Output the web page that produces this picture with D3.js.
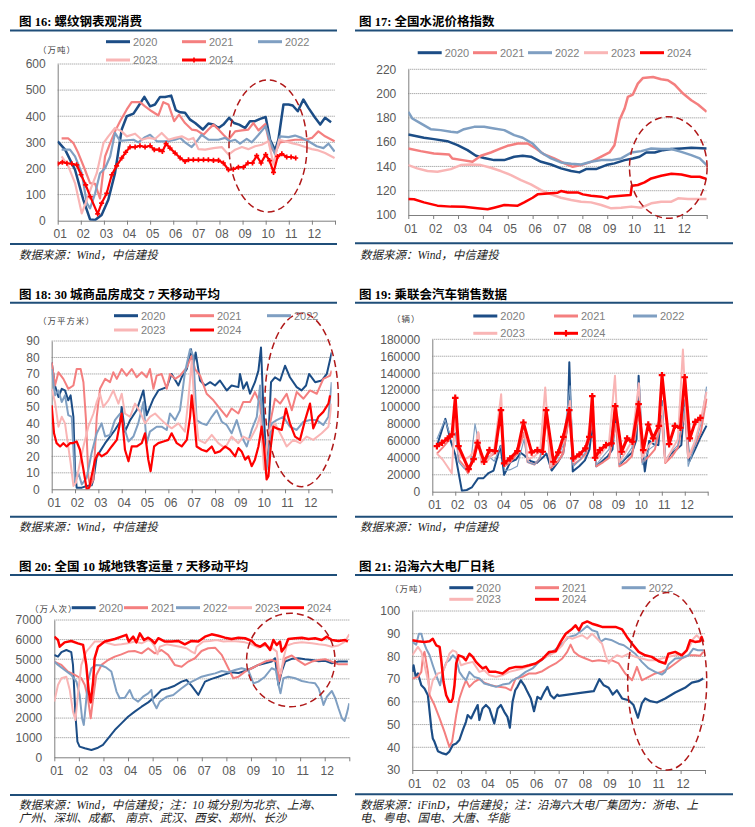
<!DOCTYPE html>
<html>
<head>
<meta charset="utf-8">
<script src="https://cdn.jsdelivr.net/npm/d3@7"></script>
<style>
  body { margin: 0; background: #fff; }
  svg { display: block; }
  .title { font-family: "Liberation Serif", "Noto Sans CJK SC", serif; font-weight: bold; font-size: 12.5px; fill: #000; }
  .src { font-family: "Liberation Serif", "Noto Sans CJK SC", serif; font-style: italic; font-size: 11.5px; fill: #222; }
  .leg { font-family: "Liberation Sans", Arial, sans-serif; font-size: 11px; fill: #808080; }
  .unit { font-family: "Noto Sans CJK SC", sans-serif; font-size: 8.5px; fill: #404040; letter-spacing: 1px; }
</style>
</head>
<body>
<svg id="chart" width="755" height="827"></svg>
<script>
// x values are month positions: 1 = start of Jan ("01"), 13 = end of Dec
const monthLabels = ["01", "02", "03", "04", "05", "06", "07", "08", "09", "10", "11", "12"];
const yearLabels = ["2020", "2021", "2022", "2023", "2024"];
const yearColors = ["#1c4d86", "#f47f7f", "#7f9fc2", "#f9b5b5", "#ff0000"];

// ---- 图16 螺纹钢表观消费 (万吨)
const steel2020 = [[1.00,304],[1.32,272],[1.75,195],[2.11,80],[2.40,5],[2.62,3],[2.90,22],[3.19,80],[3.48,182],[3.77,349],[3.99,400],[4.28,410],[4.49,438],[4.75,474],[5.00,438],[5.21,445],[5.43,474],[5.65,474],[5.91,479],[6.11,423],[6.30,415],[6.51,413],[6.73,387],[6.95,374],[7.28,349],[7.52,372],[7.74,368],[7.96,355],[8.17,368],[8.42,394],[8.63,374],[8.85,368],[9.11,355],[9.32,381],[9.54,381],[9.76,390],[10.00,397],[10.19,310],[10.41,270],[10.55,310],[10.77,445],[10.99,445],[11.17,441],[11.39,419],[11.63,464],[11.85,432],[12.14,394],[12.36,368],[12.57,394],[12.83,377]];
const steel2021 = [[1.17,315],[1.46,315],[1.68,297],[1.89,259],[2.18,195],[2.40,144],[2.62,141],[2.83,85],[3.05,246],[3.27,297],[3.48,342],[3.70,381],[3.99,426],[4.20,454],[4.56,454],[4.78,438],[5.07,419],[5.36,403],[5.57,454],[5.79,445],[6.04,381],[6.25,406],[6.51,374],[6.80,349],[7.02,346],[7.31,329],[7.52,349],[7.74,368],[7.96,349],[8.17,329],[8.39,310],[8.68,342],[8.97,346],[9.25,349],[9.47,374],[9.69,346],[9.98,370],[10.19,285],[10.41,259],[10.62,300],[10.84,304],[11.27,310],[11.71,310],[12.00,317],[12.28,342],[12.57,323],[12.98,304]];
const steel2022 = [[1.17,272],[1.53,272],[1.75,246],[2.04,182],[2.26,67],[2.40,47],[2.62,105],[2.83,182],[3.05,201],[3.27,246],[3.48,336],[3.70,306],[3.99,308],[4.28,310],[4.49,300],[4.78,320],[5.00,329],[5.29,304],[5.57,304],[5.86,306],[6.08,310],[6.30,317],[6.51,300],[6.80,282],[7.02,304],[7.23,329],[7.52,310],[7.96,310],[8.24,317],[8.46,304],[8.68,310],[8.89,295],[9.18,313],[9.40,300],[9.69,329],[10.00,362],[10.19,304],[10.41,253],[10.62,323],[10.99,320],[11.27,326],[11.56,317],[11.85,304],[12.21,285],[12.50,278],[12.72,295],[12.98,265]];
const steel2023 = [[1.17,246],[1.46,208],[1.75,144],[2.04,28],[2.26,80],[2.47,131],[2.69,182],[2.98,297],[3.19,323],[3.48,355],[3.77,342],[3.99,323],[4.35,333],[4.64,310],[4.92,317],[5.21,313],[5.50,336],[5.79,310],[6.08,317],[6.37,323],[6.66,310],[6.87,317],[7.09,274],[7.38,272],[7.74,278],[8.10,282],[8.39,253],[8.68,272],[8.97,282],[9.25,274],[9.54,285],[9.83,291],[10.12,304],[10.34,215],[10.58,310],[10.84,304],[11.13,297],[11.42,291],[11.71,282],[12.00,274],[12.28,269],[12.57,259],[12.98,240]];
const steel2024 = [[1.00,218],[1.20,224],[1.40,220],[1.61,218],[1.82,214],[2.01,176],[2.21,137],[2.41,92],[2.73,26],[2.90,67],[3.12,105],[3.34,176],[3.55,210],[3.77,240],[3.94,262],[4.13,282],[4.35,282],[4.56,287],[4.78,282],[5.00,287],[5.18,272],[5.39,272],[5.53,265],[5.69,295],[5.86,278],[6.08,259],[6.30,240],[6.51,227],[6.66,233],[6.87,233],[7.09,233],[7.31,233],[7.52,233],[7.74,231],[7.96,231],[8.17,221],[8.39,195],[8.60,197],[8.82,205],[9.04,205],[9.23,221],[9.43,221],[9.61,249],[9.80,221],[10.00,253],[10.17,230],[10.34,185],[10.52,246],[10.70,256],[10.91,244],[11.10,244],[11.30,240]];

// ---- 图17 全国水泥价格指数
const cement2020 = [[1.00,166.3],[1.63,163.6],[2.03,162.5],[2.57,160.8],[2.98,157.5],[3.38,153.4],[3.72,148.8],[4.05,147],[4.45,145.2],[4.86,145.2],[5.26,148],[5.60,148.8],[5.93,148],[6.34,143.8],[6.74,141.6],[7.14,138.4],[7.55,136.2],[7.88,135.1],[8.15,137.8],[8.55,137.8],[8.96,141.1],[9.29,142.5],[9.70,145.2],[10.03,146.6],[10.30,148],[10.57,151.5],[10.91,151.5],[11.24,153.4],[11.58,154.3],[11.98,154.8],[12.38,155.3],[13.00,154.8]];
const cement2021 = [[1.00,154.8],[1.50,152.6],[2.03,150.7],[2.64,149.9],[2.77,146.6],[3.18,145.2],[3.58,143.8],[3.92,148.8],[4.32,151.5],[4.72,154.8],[4.99,157],[5.40,158.9],[5.80,158.9],[6.13,154.8],[6.47,149.9],[6.87,146.6],[7.28,142.5],[7.61,139.7],[7.95,141.1],[8.35,143.8],[8.76,148],[9.09,151.5],[9.29,157.5],[9.49,178],[9.70,187.7],[9.83,197.3],[10.03,199.2],[10.23,208.2],[10.44,212.9],[10.84,213.7],[11.17,211.8],[11.44,211],[11.71,207.4],[12.05,200],[12.38,194.5],[12.65,191],[13.00,185]];
const cement2022 = [[1.00,185],[1.16,179.5],[1.50,175.4],[1.90,170.7],[2.30,169.9],[2.71,168.5],[2.98,168],[3.24,170.7],[3.65,172.6],[4.05,172.6],[4.45,171.2],[4.86,169.9],[5.26,165.8],[5.60,163.6],[6.00,158.9],[6.34,151.5],[6.74,146.6],[7.14,143.3],[7.55,142.2],[7.95,141.6],[8.35,143.8],[8.76,145.2],[9.16,145.2],[9.56,146.6],[9.97,151.5],[10.37,152.6],[10.77,154.8],[11.17,154.3],[11.58,154.3],[11.98,152],[12.38,149.3],[12.72,146.6],[13.00,141.1]];
const cement2023 = [[1.00,141.1],[1.36,138.4],[1.77,136.2],[2.17,135.6],[2.71,137.8],[3.11,141.1],[3.51,141.6],[3.92,141.1],[4.32,138.9],[4.72,136.2],[5.13,132.9],[5.53,128.8],[5.93,125.2],[6.34,120.5],[6.74,117],[7.14,114.2],[7.55,112.3],[7.95,111],[8.35,110.4],[8.76,108.2],[9.16,105.5],[9.56,106],[9.97,106.9],[10.37,106],[10.77,109.6],[11.17,111],[11.58,111],[11.85,113.7],[12.25,113.2],[12.65,113.2],[13.00,113.2]];
const cement2024 = [[1.00,113.2],[1.23,113],[1.63,110.4],[2.17,107.7],[2.71,106.9],[3.24,106.7],[3.78,105.5],[4.19,104.7],[4.45,106],[4.86,108.2],[5.40,107.7],[5.66,110.4],[6.00,114.2],[6.20,117],[6.60,117.8],[7.01,118.4],[7.14,119.7],[7.41,118.6],[7.81,118.6],[8.02,117],[8.35,115.9],[8.76,115.1],[9.02,113.7],[9.09,115.1],[9.56,115.9],[9.94,116.4],[9.99,124.1],[10.23,124.7],[10.50,126.9],[10.77,130.1],[11.17,132.3],[11.58,134],[11.98,133.4],[12.38,131.5],[12.72,131.5],[13.00,129.6]];

// ---- 图18 30城商品房成交7天移动平均 (万平方米)
const house2020 = [[1.00,77],[1.14,63],[1.29,56],[1.43,61],[1.57,60],[1.71,54],[1.81,57],[1.93,44],[2.00,12],[2.07,1],[2.29,1],[2.50,2],[2.71,2.4],[2.79,6],[2.93,20],[3.07,23],[3.29,28],[3.50,32],[3.71,36],[3.93,41],[4.00,50],[4.14,35],[4.36,42],[4.64,48],[4.93,60],[5.07,45],[5.36,55],[5.57,60],[5.93,62],[6.14,70],[6.43,63],[6.57,68],[6.79,73],[6.97,85],[7.07,75],[7.17,83],[7.36,66],[7.57,63],[7.79,65],[8.00,63],[8.21,66],[8.50,60],[8.71,63],[9.00,62],[9.07,70],[9.21,61],[9.36,65],[9.50,58],[9.71,65],[9.86,72],[9.97,86],[10.07,50],[10.17,25],[10.25,20],[10.40,65],[10.57,68],[10.79,66],[11.00,75],[11.21,68],[11.50,62],[11.71,60],[11.90,63],[12.03,70],[12.29,65],[12.57,66],[12.79,70],[13.00,83]];
const house2021 = [[1.00,77],[1.14,63],[1.29,71],[1.50,67],[1.71,61],[1.93,63],[2.07,73],[2.24,73],[2.36,65],[2.47,42],[2.57,8],[2.64,2],[2.79,6],[2.93,44],[3.07,61],[3.29,67],[3.50,65],[3.64,71],[3.79,67],[4.00,73],[4.21,69],[4.43,73],[4.64,68],[4.86,71],[5.07,68],[5.21,73],[5.36,61],[5.50,69],[5.71,70],[5.93,61],[6.07,70],[6.29,67],[6.50,69],[6.79,74],[7.00,81],[7.14,73],[7.36,69],[7.64,58],[7.93,54],[8.21,49],[8.50,44],[8.71,49],[9.00,46],[9.21,53],[9.50,53],[9.71,59],[9.93,52],[10.14,16],[10.36,40],[10.57,55],[10.79,52],[11.07,58],[11.29,48],[11.50,59],[11.79,55],[12.07,60],[12.36,58],[12.64,67],[12.93,69],[13.00,72]];
const house2022 = [[1.00,73],[1.14,57],[1.29,60],[1.43,53],[1.57,57],[1.71,45],[1.86,44],[2.00,4],[2.14,10],[2.29,3],[2.50,7],[2.71,22],[2.93,34],[3.14,40],[3.29,32],[3.50,33],[3.71,42],[3.93,46],[4.14,36],[4.29,29],[4.50,32],[4.71,40],[4.93,53],[5.07,28],[5.21,35],[5.50,38],[5.71,38],[5.93,36],[6.07,46],[6.29,42],[6.50,48],[6.71,71],[6.93,85],[7.07,81],[7.21,42],[7.43,40],[7.64,39],[7.86,44],[8.07,48],[8.29,41],[8.50,39],[8.71,34],[8.93,42],[9.14,32],[9.36,26],[9.57,36],[9.79,44],[9.93,63],[10.07,32],[10.21,12],[10.43,40],[10.64,42],[10.93,44],[11.21,38],[11.50,36],[11.79,41],[12.07,42],[12.36,42],[12.64,39],[12.86,44],[13.00,65]];
const house2023 = [[1.00,61],[1.14,53],[1.29,38],[1.43,44],[1.57,40],[1.71,26],[1.81,16],[1.93,2],[2.04,4],[2.21,16],[2.36,26],[2.57,38],[2.79,46],[2.93,53],[3.07,58],[3.21,50],[3.43,54],[3.64,60],[3.86,52],[4.00,58],[4.14,46],[4.36,44],[4.57,52],[4.79,47],[5.00,40],[5.21,44],[5.43,46],[5.64,43],[5.86,40],[6.14,37],[6.43,40],[6.71,35],[6.86,55],[7.00,78],[7.10,55],[7.29,30],[7.57,28],[7.86,33],[8.14,28],[8.43,25],[8.71,32],[9.00,28],[9.21,32],[9.50,30],[9.79,38],[9.93,45],[10.10,12],[10.29,35],[10.57,40],[10.86,32],[11.07,26],[11.36,30],[11.64,28],[11.93,32],[12.21,30],[12.57,34],[12.86,38],[13.00,52]];
const house2024 = [[1.00,51],[1.10,34],[1.21,28],[1.36,26],[1.50,28],[1.64,26],[1.79,28],[1.90,28],[2.07,29],[2.21,24],[2.36,12],[2.50,0],[2.61,1],[2.71,8],[2.86,18],[3.00,22],[3.14,20],[3.36,22],[3.57,26],[3.79,30],[4.00,46],[4.14,24],[4.29,17],[4.43,26],[4.64,26],[4.86,28],[5.00,34],[5.14,18],[5.24,11],[5.39,26],[5.57,28],[5.79,29],[6.00,30],[6.14,34],[6.36,28],[6.57,26],[6.79,30],[6.93,44],[7.00,57],[7.10,44],[7.21,26],[7.43,24],[7.64,23],[7.86,26],[8.00,22],[8.21,23],[8.43,26],[8.64,24],[8.86,20],[9.00,25],[9.14,23],[9.29,18],[9.43,20],[9.57,14],[9.71,18],[9.86,26],[10.00,38],[10.10,26],[10.21,6],[10.29,8],[10.39,26],[10.50,38],[10.64,37],[10.86,36],[11.04,49],[11.21,40],[11.43,32],[11.64,30],[11.86,42],[12.07,52],[12.21,37],[12.43,44],[12.64,47],[12.86,52],[12.93,57]];

// ---- 图19 乘联会汽车销售数据 (辆)
const car2020 = [[1.20,54000],[1.57,86000],[1.80,60000],[2.00,44000],[2.29,1000],[2.50,2000],[2.72,5000],[3.00,16000],[3.23,16000],[3.45,22000],[3.67,25000],[3.97,54000],[4.13,20000],[4.40,35000],[4.65,38000],[4.85,46000],[5.00,43000],[5.30,36000],[5.55,34000],[5.80,40000],[5.97,45000],[6.20,25000],[6.45,34000],[6.70,45000],[6.90,80000],[6.97,153000],[7.12,24000],[7.40,30000],[7.65,37000],[7.85,50000],[7.98,80000],[8.15,30000],[8.40,36000],[8.65,42000],[8.85,50000],[8.98,90000],[9.20,33000],[9.45,40000],[9.70,46000],[9.90,62000],[9.99,137000],[10.12,62000],[10.26,24000],[10.45,60000],[10.65,56000],[10.85,55000],[11.00,107000],[11.15,35000],[11.40,45000],[11.65,50000],[11.85,55000],[12.00,108000],[12.20,36000],[12.45,50000],[12.70,65000],[12.95,78000]];
const car2021 = [[1.20,45000],[1.45,52000],[1.70,60000],[1.90,68000],[2.00,95000],[2.15,38000],[2.40,30000],[2.55,22000],[2.80,40000],[3.00,70000],[3.15,35000],[3.40,40000],[3.70,45000],[4.00,95000],[4.15,30000],[4.40,35000],[4.70,45000],[5.00,70000],[5.15,35000],[5.45,32000],[5.70,40000],[6.00,85000],[6.15,28000],[6.45,35000],[6.70,45000],[7.00,95000],[7.15,32000],[7.45,38000],[7.70,45000],[8.00,85000],[8.15,30000],[8.45,35000],[8.70,40000],[9.00,80000],[9.15,30000],[9.45,35000],[9.70,42000],[10.00,95000],[10.15,35000],[10.45,42000],[10.70,50000],[11.00,85000],[11.15,34000],[11.45,42000],[11.70,52000],[12.00,95000],[12.15,40000],[12.45,55000],[12.70,70000],[12.95,110000]];
const car2022 = [[1.20,62000],[1.55,85000],[1.80,65000],[2.00,70000],[2.15,35000],[2.40,27000],[2.65,28000],[2.86,80000],[3.00,60000],[3.15,33000],[3.45,42000],[3.70,36000],[4.00,55000],[4.15,25000],[4.40,26000],[4.70,30000],[5.00,62000],[5.15,35000],[5.45,32000],[5.70,40000],[6.00,100000],[6.15,30000],[6.45,40000],[6.70,55000],[7.00,125000],[7.15,30000],[7.45,38000],[7.70,48000],[8.00,90000],[8.15,32000],[8.45,42000],[8.70,50000],[9.00,105000],[9.15,32000],[9.45,42000],[9.70,52000],[10.00,128000],[10.15,32000],[10.45,50000],[10.70,55000],[11.00,108000],[11.15,38000],[11.45,48000],[11.70,55000],[12.00,100000],[12.15,30000],[12.45,55000],[12.70,80000],[12.95,124000]];
const car2023 = [[1.20,45000],[1.45,38000],[1.65,30000],[1.85,22000],[2.00,95000],[2.15,45000],[2.40,38000],[2.65,42000],[2.85,50000],[3.00,70000],[3.15,33000],[3.45,38000],[3.70,50000],[4.00,115000],[4.15,30000],[4.40,40000],[4.70,50000],[5.00,80000],[5.15,38000],[5.45,42000],[5.70,48000],[5.92,123000],[6.15,30000],[6.45,45000],[6.70,58000],[7.00,107000],[7.15,35000],[7.45,45000],[7.70,55000],[8.00,100000],[8.15,38000],[8.45,48000],[8.70,58000],[8.96,137000],[9.15,35000],[9.45,48000],[9.70,60000],[10.00,128000],[10.15,40000],[10.45,55000],[10.70,62000],[11.00,100000],[11.15,35000],[11.45,50000],[11.70,62000],[11.92,168000],[12.15,40000],[12.45,60000],[12.70,85000],[12.95,118000]];
const car2024 = [[1.20,53800],[1.42,57800],[1.67,62900],[1.86,67600],[2.00,110800],[2.14,53800],[2.58,26700],[2.80,38500],[2.97,57800],[3.26,35400],[3.49,49100],[3.74,48000],[3.99,96300],[4.13,33400],[4.39,39300],[4.71,48000],[4.97,81700],[5.33,46400],[5.58,49100],[5.81,47200],[5.96,96300],[6.28,35400],[6.49,46400],[6.71,64800],[6.97,96300],[7.14,39300],[7.41,44000],[7.67,51100],[7.84,64800],[7.97,112800],[8.09,40100],[8.30,49100],[8.57,55000],[8.81,57000],[8.97,101000],[9.25,47200],[9.49,62900],[9.72,59000],[9.99,103400],[10.19,49100],[10.41,79400],[10.62,62900],[10.87,77800],[11.01,137600],[11.32,56200],[11.57,77800],[11.81,75500],[12.00,135200],[12.22,62900],[12.46,82500],[12.68,87200]];

// ---- 图20 全国10城地铁客运量7天移动平均 (万人次)
const metro2020 = [[1.00,5220],[1.15,5130],[1.29,5360],[1.49,5470],[1.69,5360],[1.76,4710],[1.86,2160],[1.94,800],[2.03,545],[2.24,460],[2.51,370],[2.78,490],[2.98,630],[3.19,970],[3.46,1390],[3.73,1730],[4.00,2070],[4.27,2330],[4.55,2580],[4.82,2800],[5.09,3090],[5.36,3430],[5.63,3520],[5.90,3650],[6.18,3860],[6.38,3940],[6.58,3650],[6.86,3180],[7.13,3860],[7.40,4000],[7.67,4110],[7.94,4230],[8.21,4340],[8.49,4300],[8.76,4400],[9.03,4540],[9.30,4710],[9.57,4790],[9.84,4880],[9.98,5050],[10.12,3690],[10.25,4370],[10.39,4880],[10.66,5020],[10.93,5050],[11.20,5000],[11.48,4960],[11.75,4900],[12.02,4920],[12.29,4790],[12.56,4880],[12.94,4880]];
const metro2021 = [[1.00,4880],[1.29,4710],[1.56,4370],[1.83,4200],[1.96,4110],[2.10,4030],[2.24,3690],[2.37,3010],[2.48,1990],[2.58,3010],[2.71,4200],[2.92,4710],[3.19,4960],[3.46,5130],[3.73,5250],[4.00,5390],[4.27,5420],[4.55,5300],[4.82,5560],[5.09,5300],[5.36,5470],[5.63,5220],[5.90,4710],[6.18,4620],[6.45,4880],[6.72,5050],[6.99,5420],[7.26,5560],[7.54,5590],[7.81,5220],[8.08,4540],[8.28,4030],[8.49,4110],[8.76,4370],[9.03,4540],[9.30,4710],[9.57,4880],[9.84,4960],[10.05,4880],[10.14,3860],[10.25,4540],[10.39,5050],[10.66,5190],[10.93,4930],[11.20,4710],[11.48,4880],[11.75,4960],[12.02,5000],[12.29,4880],[12.56,4740],[12.94,4740]];
const metro2022 = [[1.00,4880],[1.15,4710],[1.42,4450],[1.69,4200],[1.90,3860],[2.03,3180],[2.13,1990],[2.20,1650],[2.28,2670],[2.37,3860],[2.51,4540],[2.71,4710],[2.92,4680],[3.12,4570],[3.32,4370],[3.53,3350],[3.66,3010],[3.87,3040],[4.07,3430],[4.21,3010],[4.41,2840],[4.61,3090],[4.82,3260],[4.95,3430],[5.02,2840],[5.16,2500],[5.29,2840],[5.57,3090],[5.84,3180],[6.18,3520],[6.45,3770],[6.72,3940],[6.99,4110],[7.26,4200],[7.54,4280],[7.81,4400],[8.08,4340],[8.35,4450],[8.62,4540],[8.89,4450],[9.10,3770],[9.30,3860],[9.57,4110],[9.84,4540],[10.01,4450],[10.12,3690],[10.20,3260],[10.32,4030],[10.52,4110],[10.80,4030],[11.07,3890],[11.34,3820],[11.61,3770],[11.75,3520],[11.88,3010],[11.95,2670],[12.09,3090],[12.29,3380],[12.43,3010],[12.56,2500],[12.70,1990],[12.81,1850],[12.90,2240],[13.00,2750]];
const metro2023 = [[1.00,2840],[1.15,3690],[1.29,4030],[1.49,4110],[1.63,3430],[1.76,2330],[1.86,1900],[1.96,3180],[2.10,4710],[2.30,5390],[2.44,5590],[2.64,5900],[2.92,5900],[3.19,5810],[3.46,5730],[3.73,5760],[4.00,5810],[4.27,5900],[4.55,5810],[4.82,5980],[4.95,5900],[5.09,5640],[5.20,5250],[5.29,5640],[5.57,5760],[5.84,5700],[6.11,5640],[6.38,5560],[6.58,5390],[6.72,5300],[6.79,5640],[7.06,5900],[7.33,5930],[7.60,5980],[7.88,5900],[8.21,5930],[8.49,5900],[8.76,5860],[9.03,5760],[9.30,5590],[9.57,5700],[9.84,5590],[10.05,5390],[10.14,4450],[10.23,4280],[10.32,5050],[10.46,5700],[10.73,5810],[11.07,5860],[11.48,5810],[11.75,5760],[12.02,5730],[12.29,5640],[12.56,5700],[12.83,5900],[13.00,6270]];
const metro2024 = [[1.00,6150],[1.15,5980],[1.22,5640],[1.42,5860],[1.69,5930],[1.96,5810],[2.17,5730],[2.30,4710],[2.40,3350],[2.48,2800],[2.58,3860],[2.64,5050],[2.78,5640],[3.05,5900],[3.46,6030],[3.73,6150],[3.93,6240],[4.03,5900],[4.21,6150],[4.34,5860],[4.48,6320],[4.65,5980],[4.82,6100],[4.95,5980],[5.09,5810],[5.23,6070],[5.50,5900],[5.77,5900],[6.04,5930],[6.31,5760],[6.58,5930],[6.86,5900],[7.13,6150],[7.40,6270],[7.67,6200],[7.94,6100],[8.21,6030],[8.49,6100],[8.76,6070],[9.03,5930],[9.19,5730],[9.37,5640],[9.57,5810],[9.78,5470],[9.91,5980],[10.05,5730],[10.18,5900],[10.25,5390],[10.39,5640],[10.52,6030],[10.80,6070],[11.07,6100],[11.34,6030],[11.61,6070],[11.88,5980],[12.09,6150],[12.29,5980],[12.56,5930],[12.83,5980],[12.94,5900]];

// ---- 图21 沿海六大电厂日耗 (万吨)
const coal2020 = [[1.00,73.2],[1.05,76.1],[1.14,71],[1.23,72.5],[1.37,67.3],[1.50,65.9],[1.64,62.9],[1.71,55.6],[1.78,48.3],[1.84,43.9],[1.91,42.4],[2.05,38.3],[2.25,37.3],[2.39,36.9],[2.52,38.1],[2.66,41],[2.80,41.7],[2.93,43.2],[3.07,47.6],[3.20,51.2],[3.27,54.2],[3.41,52.7],[3.54,55.6],[3.68,58.6],[3.75,52],[3.88,57.1],[4.02,58.6],[4.16,57.1],[4.36,50.5],[4.50,57.1],[4.63,58.6],[4.77,55.6],[4.90,53.4],[5.00,48.6],[5.11,60],[5.22,65.1],[5.31,66.6],[5.45,69.5],[5.59,67.3],[5.72,64.4],[5.86,61.5],[5.99,55.9],[6.13,62.2],[6.27,61.2],[6.40,64.1],[6.54,66.6],[6.67,62.9],[6.81,61.5],[6.95,63.2],[7.01,62.6],[7.97,64.1],[8.44,64.7],[8.67,70],[8.85,67.3],[9.05,66.2],[9.22,63.2],[9.39,65.1],[9.60,61.5],[9.87,60.7],[10.07,58.6],[10.25,53],[10.41,59.3],[10.55,61.5],[10.76,60.3],[11.03,59.7],[11.37,61.5],[11.78,64.1],[12.18,66.2],[12.46,68.5],[12.73,69.1],[12.93,70.3]];
const coal2021 = [[1.00,70.3],[1.23,71],[1.37,73.2],[1.44,80.5],[1.50,82],[1.64,73.2],[1.71,62.9],[1.91,58.6],[2.12,52.7],[2.32,46.8],[2.52,40.2],[2.63,42.4],[2.80,54.2],[2.93,61.5],[3.07,65.9],[3.20,69.5],[3.34,66.6],[3.54,68.8],[3.75,70],[3.95,68.5],[4.22,67.3],[4.56,66.6],[4.84,66.2],[5.04,65.1],[5.24,70.3],[5.52,71],[5.79,72.5],[6.06,72.5],[6.33,73.5],[6.61,75.4],[6.88,76.9],[7.15,79.1],[7.35,82],[7.49,85.2],[7.63,82],[7.83,80.3],[8.10,79.1],[8.37,77.9],[8.65,78.3],[8.92,77.9],[9.19,78.3],[9.46,76.9],[9.73,72.5],[10.01,69.5],[10.21,75.4],[10.41,69.5],[10.69,71],[10.96,72.5],[11.23,73.2],[11.50,74.7],[11.78,76.9],[12.05,79.1],[12.32,80.5],[12.59,80.5],[12.80,80.3],[12.93,82]];
const coal2022 = [[1.00,86.4],[1.16,85.2],[1.27,90],[1.37,90],[1.46,86.4],[1.57,83.4],[1.71,80.5],[1.84,76.1],[1.98,71.7],[2.14,67.3],[2.25,73.2],[2.39,77.3],[2.52,78.3],[2.66,80.5],[2.80,79],[2.93,73.2],[3.07,71],[3.20,69.5],[3.34,73.2],[3.54,71],[3.75,70.3],[3.95,68.1],[4.22,67.3],[4.43,66.6],[4.70,67.6],[4.97,68.1],[5.11,69.5],[5.38,71],[5.65,73.2],[5.93,74.7],[6.20,77.6],[6.47,79.8],[6.74,82],[7.01,84.2],[7.22,86.4],[7.42,88.6],[7.69,89.3],[7.97,91.5],[8.17,93.4],[8.37,91.5],[8.58,90.8],[8.71,86.4],[8.92,87.8],[9.19,87.1],[9.46,85.6],[9.67,84.9],[9.87,83.4],[10.14,81.2],[10.41,77.6],[10.69,74.7],[10.96,73.2],[11.23,72],[11.37,73.2],[11.50,76.4],[11.78,79.1],[12.05,79.3],[12.32,80.5],[12.52,83.4],[12.71,82.7],[12.93,82.7]];
const coal2023 = [[1.00,80.5],[1.23,84.2],[1.37,82],[1.50,76.1],[1.64,69.5],[1.73,64.4],[1.84,69.5],[2.05,72.5],[2.25,73.2],[2.39,76.9],[2.52,81.2],[2.66,82.7],[2.80,82],[3.00,76.1],[3.20,76.9],[3.48,77.6],[3.75,73.2],[3.95,73.9],[4.16,71.7],[4.43,71],[4.70,71.7],[4.97,73.2],[5.24,73.9],[5.52,74.7],[5.79,75.8],[6.06,76.9],[6.33,79.1],[6.61,80.5],[6.88,82],[7.15,84.9],[7.35,88.6],[7.56,87.8],[7.76,88.6],[7.97,89.3],[8.17,87.8],[8.37,90],[8.58,87.8],[8.78,85.6],[8.92,80.5],[9.05,76.9],[9.19,79.1],[9.39,80.5],[9.60,79.8],[9.87,81.2],[10.14,79.8],[10.41,79.1],[10.69,78.3],[10.96,78.3],[11.23,79.1],[11.50,79.8],[11.78,80.5],[12.05,80.8],[12.32,83.4],[12.52,87.8],[12.66,89.3],[12.80,87.8],[12.93,86.4]];
const coal2024 = [[1.00,87.1],[1.23,86.7],[1.50,86.4],[1.71,86.7],[1.84,87.8],[1.98,84.9],[2.12,84.2],[2.18,79.1],[2.28,68.8],[2.39,62.9],[2.52,60],[2.59,60],[2.66,61.5],[2.73,67.3],[2.80,76.9],[2.90,80.5],[3.07,79.8],[3.20,78.3],[3.34,81.2],[3.48,79.8],[3.61,77.6],[3.75,76.1],[3.88,74.7],[4.02,75.4],[4.16,73.2],[4.43,73.2],[4.70,72.5],[4.97,74.7],[5.24,75.4],[5.52,75.4],[5.79,76.1],[6.06,76.9],[6.33,78.8],[6.61,82],[6.88,82.3],[7.08,86.4],[7.29,90],[7.56,92.2],[7.69,93.7],[7.83,91.5],[7.97,94.4],[8.17,95.4],[8.37,94.4],[8.58,93.7],[8.78,93],[9.05,93],[9.33,93],[9.60,91.9],[9.80,88.6],[10.01,85.6],[10.28,82],[10.55,80.5],[10.82,79.8],[11.10,77.9],[11.37,76.9],[11.50,81.2],[11.78,82],[12.05,80.5],[12.25,82.7],[12.39,87.1],[12.59,86.4],[12.80,86.7],[12.86,88.6],[12.93,86.4]];

// ==================== layout of the six panels ====================
const LEFT = [10, 337], RIGHT = [355, 733];
const panels = [
  { title: "图 16: 螺纹钢表观消费", titleX: 19, titleY: 25.5, rule: LEFT, ruleTop: 30.6, ruleBottom: 244,
    src: ["数据来源：Wind，中信建投"], srcX: 19, srcY: [259],
    plot: { l: 57.7, r: 335, t: 64, b: 220.7 }, yDomain: [0, 600], yStep: 100,
    unit: { text: "（万吨）", x: 38, y: 49 },
    legend: [[106, 41.7], [182, 41.7], [258, 41.7], [106, 60], [182, 60]],
    series: [steel2020, steel2021, steel2022, steel2023, steel2024],
    widths: [2.5, 2.2, 2.2, 2.2, 2.2], markers: [false, false, false, false, true], markerSize: 14,
    ellipse: { cx: 268, cy: 146, rx: 39, ry: 66 } },
  { title: "图 17: 全国水泥价格指数", titleX: 359, titleY: 25.5, rule: RIGHT, ruleTop: 30.6, ruleBottom: 243.3,
    src: ["数据来源：Wind，中信建投"], srcX: 360, srcY: [259],
    plot: { l: 408.3, r: 706.7, t: 69.3, b: 215 }, yDomain: [100, 220], yStep: 20,
    unit: null,
    legend: [[417.7, 52.7], [473, 52.7], [528, 52.7], [584, 52.7], [640, 52.7]],
    series: [cement2020, cement2021, cement2022, cement2023, cement2024],
    widths: [2.5, 2.5, 2.5, 2.5, 2.5], markers: [false, false, false, false, false], markerSize: 0,
    ellipse: { cx: 668.3, cy: 167.5, rx: 38.8, ry: 50.8 } },
  { title: "图 18: 30 城商品房成交 7 天移动平均", titleX: 19, titleY: 298.5, rule: LEFT, ruleTop: 302.7, ruleBottom: 516.7,
    src: ["数据来源：Wind，中信建投"], srcX: 19, srcY: [531],
    plot: { l: 51.7, r: 331.7, t: 341, b: 489.3 }, yDomain: [0, 90], yStep: 10,
    unit: { text: "（万平方米）", x: 38, y: 320 },
    legend: [[114, 315.7], [190, 315.7], [267, 315.7], [114, 330], [190, 330]],
    series: [house2020, house2021, house2022, house2023, house2024],
    widths: [2, 2, 2, 2, 2.2], markers: [false, false, false, false, false], markerSize: 0,
    ellipse: { cx: 301.7, cy: 400, rx: 36.7, ry: 86.7 } },
  { title: "图 19: 乘联会汽车销售数据", titleX: 359, titleY: 298.5, rule: RIGHT, ruleTop: 302.7, ruleBottom: 516.7,
    src: ["数据来源：Wind，中信建投"], srcX: 360, srcY: [531],
    plot: { l: 432.3, r: 707.7, t: 339.3, b: 491.7 }, yDomain: [0, 180000], yStep: 20000,
    unit: { text: "（辆）", x: 392, y: 318 },
    legend: [[473.3, 316], [554, 316], [633, 316], [473.3, 333.3], [554, 333.3]],
    series: [car2020, car2021, car2022, car2023, car2024],
    widths: [2, 2, 1.2, 2, 3], markers: [false, false, false, false, true], markerSize: 24,
    ellipse: null },
  { title: "图 20: 全国 10 城地铁客运量 7 天移动平均", titleX: 19, titleY: 570.5, rule: LEFT, ruleTop: 575, ruleBottom: 795,
    src: ["数据来源：Wind，中信建投；注：10 城分别为北京、上海、", "广州、深圳、成都、 南京、武汉、西安、郑州、长沙"], srcX: 19, srcY: [808.5, 822],
    plot: { l: 54.3, r: 349.3, t: 620, b: 757.3 }, yDomain: [0, 7000], yStep: 1000,
    unit: { text: "（万人次）", x: 30, y: 607.7 },
    legend: [[71.7, 607.7], [124, 607.7], [176, 607.7], [228, 607.7], [280, 607.7]],
    series: [metro2020, metro2021, metro2022, metro2023, metro2024],
    widths: [2, 2, 2, 2, 2.5], markers: [false, false, false, false, false], markerSize: 0,
    ellipse: { cx: 290.8, cy: 660, rx: 44.2, ry: 46.7 } },
  { title: "图 21: 沿海六大电厂日耗", titleX: 359, titleY: 570.5, rule: RIGHT, ruleTop: 575, ruleBottom: 794.3,
    src: ["数据来源：iFinD，中信建投；注：沿海六大电厂集团为：浙电、上", "电、粤电、国电、大唐、华能"], srcX: 360, srcY: [808.5, 822],
    plot: { l: 412.3, r: 705, t: 611, b: 770 }, yDomain: [30, 100], yStep: 10,
    unit: { text: "（万吨）", x: 390, y: 588 },
    legend: [[449.3, 587.7], [535, 587.7], [621.7, 587.7], [449.3, 599.3], [535, 599.3]],
    series: [coal2020, coal2021, coal2022, coal2023, coal2024],
    widths: [2.2, 2, 2, 2, 2.5], markers: [false, false, false, false, false], markerSize: 0,
    ellipse: { cx: 667.2, cy: 681.3, rx: 39.5, ry: 88.7 } }
];

const svg = d3.select("#chart");

function drawPanel(p, idx) {
  const g = svg.append("g");
  const marker = d3.symbol().type(d3.symbolCross).size(p.markerSize);

  // title and the two blue rules
  g.append("text").attr("class", "title").attr("x", p.titleX).attr("y", p.titleY).text(p.title);
  [p.ruleTop, p.ruleBottom].forEach(yy => {
    g.append("line")
      .attr("x1", p.rule[0]).attr("x2", p.rule[1])
      .attr("y1", yy).attr("y2", yy)
      .attr("stroke", "#1f4e79").attr("stroke-width", 2);
  });
  p.src.forEach((s, i) => {
    g.append("text").attr("class", "src").attr("x", p.srcX).attr("y", p.srcY[i]).text(s);
  });

  const x = d3.scaleLinear().domain([1, 13]).range([p.plot.l, p.plot.r]);
  const y = d3.scaleLinear().domain(p.yDomain).range([p.plot.b, p.plot.t]);
  const yTicks = d3.range(p.yDomain[0], p.yDomain[1] + p.yStep / 2, p.yStep);

  // dotted grid lines
  g.selectAll(null).data(yTicks.slice(1)).join("line")
    .attr("x1", p.plot.l).attr("x2", p.plot.r)
    .attr("y1", d => y(d)).attr("y2", d => y(d))
    .attr("stroke", "#8c8c8c").attr("stroke-width", 1)
    .attr("stroke-dasharray", "1,1");

  // y axis
  const yAxis = g.append("g")
    .attr("transform", `translate(${p.plot.l},0)`)
    .call(d3.axisLeft(y).tickValues(yTicks).tickSize(0).tickPadding(12).tickFormat(d3.format("d")));
  yAxis.select(".domain").attr("stroke", "#7f7f7f");
  yAxis.selectAll("text")
    .attr("font-family", "'Liberation Sans', Arial, sans-serif")
    .attr("font-size", 12).attr("fill", "#595959");

  // x axis, month ticks
  const xAxis = g.append("g")
    .attr("transform", `translate(0,${p.plot.b})`)
    .call(d3.axisBottom(x).tickValues(d3.range(1, 14)).tickSizeInner(4).tickSizeOuter(0).tickPadding(5)
      .tickFormat(d => monthLabels[d - 1] || ""));
  xAxis.select(".domain").attr("stroke", "#7f7f7f");
  xAxis.selectAll("line").attr("stroke", "#7f7f7f");
  xAxis.selectAll("text")
    .attr("dx", 2)
    .attr("font-family", "'Liberation Sans', Arial, sans-serif")
    .attr("font-size", 12).attr("fill", "#595959");

  // clip for the series
  const clipId = "clip" + idx;
  svg.append("clipPath").attr("id", clipId).append("rect")
    .attr("x", p.plot.l).attr("y", p.plot.t - 6)
    .attr("width", p.plot.r - p.plot.l).attr("height", p.plot.b - p.plot.t + 6);

  const line = d3.line().x(d => x(d[0])).y(d => y(d[1]));
  const plotG = g.append("g").attr("clip-path", `url(#${clipId})`);
  p.series.forEach((data, i) => {
    plotG.append("path")
      .datum(data)
      .attr("fill", "none")
      .attr("stroke", yearColors[i])
      .attr("stroke-width", p.widths[i])
      .attr("stroke-linejoin", "round")
      .attr("d", line);
    if (p.markers[i]) {
      plotG.selectAll(null).data(data).join("path")
        .attr("transform", d => `translate(${x(d[0])},${y(d[1])})`)
        .attr("d", marker)
        .attr("fill", yearColors[i]);
    }
  });

  // dashed ellipse annotation
  if (p.ellipse) {
    g.append("ellipse")
      .attr("cx", p.ellipse.cx).attr("cy", p.ellipse.cy)
      .attr("rx", p.ellipse.rx).attr("ry", p.ellipse.ry)
      .attr("fill", "none").attr("stroke", "#b01818")
      .attr("stroke-width", 1.5).attr("stroke-dasharray", "7,4");
  }

  // unit label
  if (p.unit) {
    g.append("text").attr("class", "unit")
      .attr("x", p.unit.x).attr("y", p.unit.y)
      .attr("dominant-baseline", "central")
      .text(p.unit.text);
  }

  // legend
  yearLabels.forEach((lab, i) => {
    const [lx, ly] = p.legend[i];
    g.append("line")
      .attr("x1", lx).attr("x2", lx + 24)
      .attr("y1", ly).attr("y2", ly)
      .attr("stroke", yearColors[i]).attr("stroke-width", 3);
    if (p.markers[i]) {
      g.append("path").attr("transform", `translate(${lx + 12},${ly})`)
        .attr("d", marker).attr("fill", yearColors[i]);
    }
    g.append("text").attr("class", "leg")
      .attr("x", lx + 27).attr("y", ly)
      .attr("dominant-baseline", "central")
      .text(lab);
  });
}

panels.forEach(drawPanel);
</script>
</body>
</html>
